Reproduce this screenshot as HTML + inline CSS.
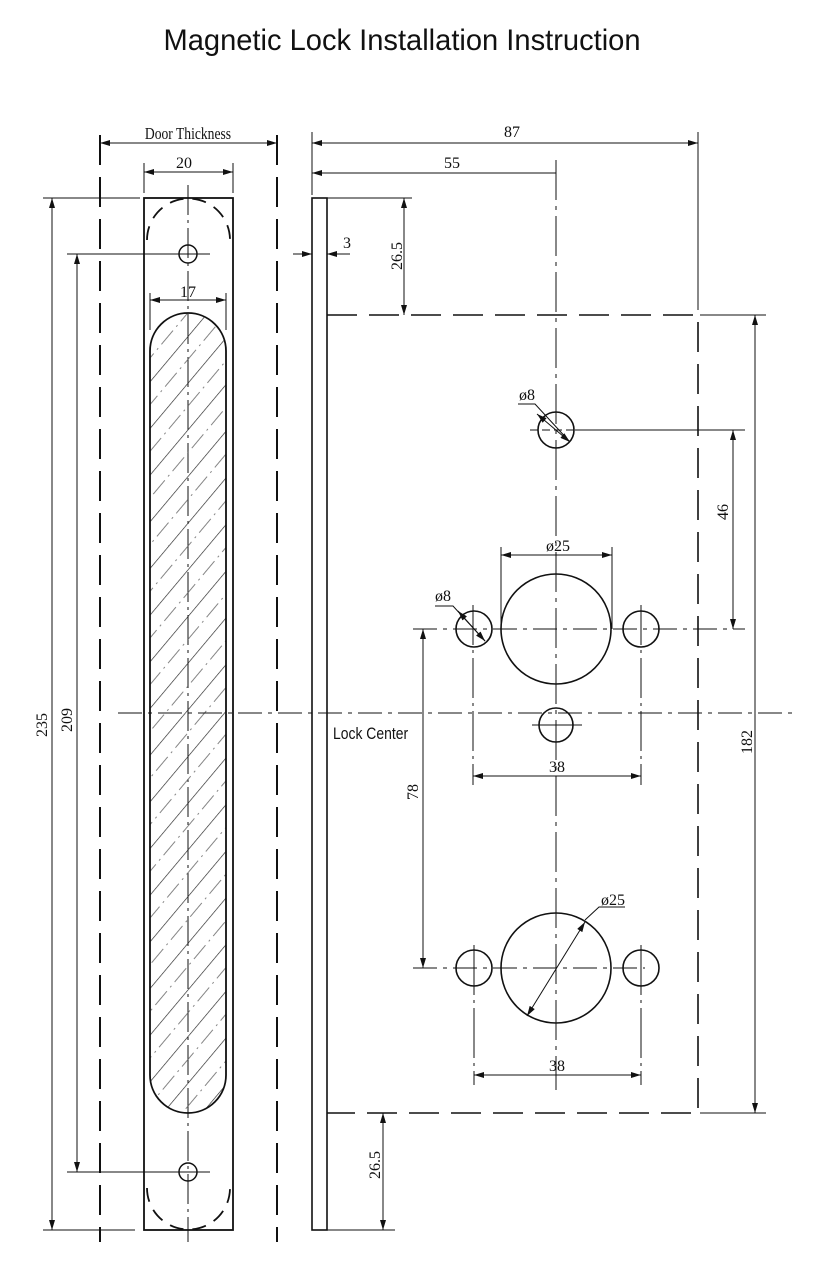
<!DOCTYPE html>
<html><head><meta charset="utf-8"><style>
html,body{margin:0;padding:0;background:#fff}
svg{display:block}
.t{font-family:"Liberation Serif",serif;font-size:16px;fill:#111}
.s{font-family:"Liberation Sans",sans-serif;fill:#111}
</style></head><body>
<svg width="824" height="1273" viewBox="0 0 824 1273" xmlns="http://www.w3.org/2000/svg">
<defs>
<marker id="a" viewBox="0 0 10 6" refX="10" refY="3" markerWidth="14" markerHeight="6" markerUnits="userSpaceOnUse" orient="auto-start-reverse"><path d="M0,0L10,3L0,6z" fill="#111"/></marker>
<pattern id="h" width="30" height="30" patternUnits="userSpaceOnUse" patternTransform="rotate(40)">
<line x1="0" y1="0" x2="0" y2="30" stroke="#222" stroke-width="1.3"/>
<line x1="15" y1="0" x2="15" y2="30" stroke="#666" stroke-width="0.8" stroke-dasharray="10 5 2 5"/>
</pattern>
<clipPath id="slot"><rect x="150" y="313" width="76" height="800" rx="38" ry="38"/></clipPath>
</defs>
<text x="402" y="50" text-anchor="middle" class="s" font-size="30" font-weight="500" transform="translate(402 0) scale(0.97 1) translate(-402 0)">Magnetic Lock Installation Instruction</text>

<g stroke="#111" fill="none" stroke-width="1">
<line x1="100" y1="135" x2="100" y2="1242" stroke-width="2" stroke-dasharray="30 12"/>
<line x1="277" y1="135" x2="277" y2="1242" stroke-width="2" stroke-dasharray="30 12"/>
<line x1="100" y1="143" x2="277" y2="143" marker-start="url(#a)" marker-end="url(#a)"/>
<line x1="144" y1="163" x2="144" y2="193"/><line x1="233" y1="163" x2="233" y2="193"/>
<line x1="144" y1="172" x2="233" y2="172" marker-start="url(#a)" marker-end="url(#a)"/>
<rect x="144" y="198" width="89" height="1032" stroke-width="1.8"/>
<path d="M147,240 A41,41 0 0 1 230,240" stroke-width="1.8" stroke-dasharray="14 9"/>
<path d="M147,1188 A41,41 0 0 0 230,1188" stroke-width="1.8" stroke-dasharray="14 9"/>
<circle cx="188" cy="254" r="9" stroke-width="1.5"/>
<circle cx="188" cy="1172" r="9" stroke-width="1.5"/>
<line x1="188" y1="185" x2="188" y2="1242" stroke-dasharray="30 5 3 5"/>
<line x1="67" y1="254" x2="210" y2="254"/>
<line x1="67" y1="1172" x2="210" y2="1172"/>
<line x1="150" y1="293" x2="150" y2="330"/><line x1="226" y1="293" x2="226" y2="330"/>
<line x1="150" y1="300" x2="226" y2="300" marker-start="url(#a)" marker-end="url(#a)"/>
<rect x="150" y="313" width="76" height="800" fill="url(#h)" stroke="none" clip-path="url(#slot)"/>
<rect x="150" y="313" width="76" height="800" rx="38" ry="38" stroke-width="1.8"/>
<line x1="43" y1="198" x2="140" y2="198"/>
<line x1="43" y1="1230" x2="135" y2="1230"/>
<line x1="52" y1="198" x2="52" y2="1230" marker-start="url(#a)" marker-end="url(#a)"/>
<line x1="77" y1="254" x2="77" y2="1172" marker-start="url(#a)" marker-end="url(#a)"/>
<line x1="118" y1="713" x2="795" y2="713" stroke-dasharray="24 6 4 6"/>
<rect x="312" y="198" width="15" height="1032" stroke-width="1.6"/>
<line x1="293" y1="254" x2="312" y2="254" marker-end="url(#a)"/>
<line x1="350" y1="254" x2="327" y2="254" marker-end="url(#a)"/>
<line x1="312" y1="132" x2="312" y2="195"/>
<line x1="698" y1="132" x2="698" y2="310"/>
<line x1="312" y1="143" x2="698" y2="143" marker-start="url(#a)" marker-end="url(#a)"/>
<line x1="312" y1="173" x2="556" y2="173" marker-start="url(#a)"/>
<line x1="556" y1="160" x2="556" y2="1090" stroke-dasharray="40 6 4 6"/>
<line x1="327" y1="198" x2="412" y2="198"/>
<line x1="404" y1="198" x2="404" y2="315" marker-start="url(#a)" marker-end="url(#a)"/>
<path d="M327,315 H698 V1113 H327" stroke-width="1.6" stroke-dasharray="30 12"/>
<line x1="700" y1="315" x2="766" y2="315"/><line x1="700" y1="1113" x2="766" y2="1113"/>
<line x1="755" y1="315" x2="755" y2="1113" marker-start="url(#a)" marker-end="url(#a)"/>
<line x1="575" y1="430" x2="745" y2="430"/>
<line x1="733" y1="430" x2="733" y2="629" marker-start="url(#a)" marker-end="url(#a)"/>
<circle cx="556" cy="430" r="18" stroke-width="1.6"/>
<line x1="530" y1="430" x2="582" y2="430" stroke-dasharray="8 4"/>
<path d="M518,404 H535 L570,442" />
<line x1="537" y1="414" x2="570" y2="442" marker-start="url(#a)" marker-end="url(#a)"/>
<line x1="413" y1="629" x2="745" y2="629" stroke-dasharray="24 6 4 6"/>
<circle cx="474" cy="629" r="18" stroke-width="1.6"/>
<circle cx="641" cy="629" r="18" stroke-width="1.6"/>
<circle cx="556" cy="629" r="55" stroke-width="1.6"/>
<path d="M435,606 H453 L485,641"/>
<line x1="458" y1="611" x2="485" y2="641" marker-start="url(#a)" marker-end="url(#a)"/>
<line x1="501" y1="547" x2="501" y2="629"/><line x1="612" y1="547" x2="612" y2="629"/>
<line x1="501" y1="555" x2="612" y2="555" marker-start="url(#a)" marker-end="url(#a)"/>
<line x1="473" y1="605" x2="473" y2="785" stroke-dasharray="40 5 3 5"/>
<line x1="641" y1="605" x2="641" y2="785" stroke-dasharray="40 5 3 5"/>
<circle cx="556" cy="725" r="17" stroke-width="1.6"/>
<line x1="532" y1="725" x2="582" y2="725"/>
<line x1="473" y1="776" x2="641" y2="776" marker-start="url(#a)" marker-end="url(#a)"/>
<line x1="423" y1="629" x2="423" y2="968" marker-start="url(#a)" marker-end="url(#a)"/>
<line x1="413" y1="968" x2="645" y2="968" stroke-dasharray="24 6 4 6"/>
<circle cx="474" cy="968" r="18" stroke-width="1.6"/>
<circle cx="641" cy="968" r="18" stroke-width="1.6"/>
<circle cx="556" cy="968" r="55" stroke-width="1.6"/>
<line x1="474" y1="945" x2="474" y2="1085" stroke-dasharray="50 5 3 5"/>
<line x1="641" y1="945" x2="641" y2="1085" stroke-dasharray="50 5 3 5"/>
<path d="M625,907 H599 L585,920"/>
<line x1="585" y1="922" x2="527" y2="1016" marker-start="url(#a)" marker-end="url(#a)"/>
<line x1="474" y1="1075" x2="641" y2="1075" marker-start="url(#a)" marker-end="url(#a)"/>
<line x1="327" y1="1230" x2="395" y2="1230"/>
<line x1="383" y1="1113" x2="383" y2="1230" marker-start="url(#a)" marker-end="url(#a)"/>
</g>

<g class="t">
<text x="188" y="139" text-anchor="middle" font-size="17" transform="translate(188 0) scale(0.8 1) translate(-188 0)">Door Thickness</text>
<text x="184" y="168" text-anchor="middle">20</text>
<text x="188" y="297" text-anchor="middle">17</text>
<text x="347" y="248" text-anchor="middle">3</text>
<text x="512" y="137" text-anchor="middle">87</text>
<text x="452" y="168" text-anchor="middle">55</text>
<text x="527" y="400" text-anchor="middle">ø8</text>
<text x="443" y="601" text-anchor="middle">ø8</text>
<text x="558" y="551" text-anchor="middle">ø25</text>
<text x="557" y="772" text-anchor="middle">38</text>
<text x="557" y="1071" text-anchor="middle">38</text>
<text x="613" y="905" text-anchor="middle">ø25</text>
<text transform="translate(402 256) rotate(-90)" text-anchor="middle">26.5</text>
<text transform="translate(380 1165) rotate(-90)" text-anchor="middle">26.5</text>
<text transform="translate(47 725) rotate(-90)" text-anchor="middle">235</text>
<text transform="translate(72 720) rotate(-90)" text-anchor="middle">209</text>
<text transform="translate(728 512) rotate(-90)" text-anchor="middle">46</text>
<text transform="translate(418 792) rotate(-90)" text-anchor="middle">78</text>
<text transform="translate(752 742) rotate(-90)" text-anchor="middle">182</text>
</g>
<text x="333" y="739" class="s" font-size="17" font-weight="500" transform="translate(333 0) scale(0.82 1) translate(-333 0)">Lock Center</text>
</svg>
</body></html>
